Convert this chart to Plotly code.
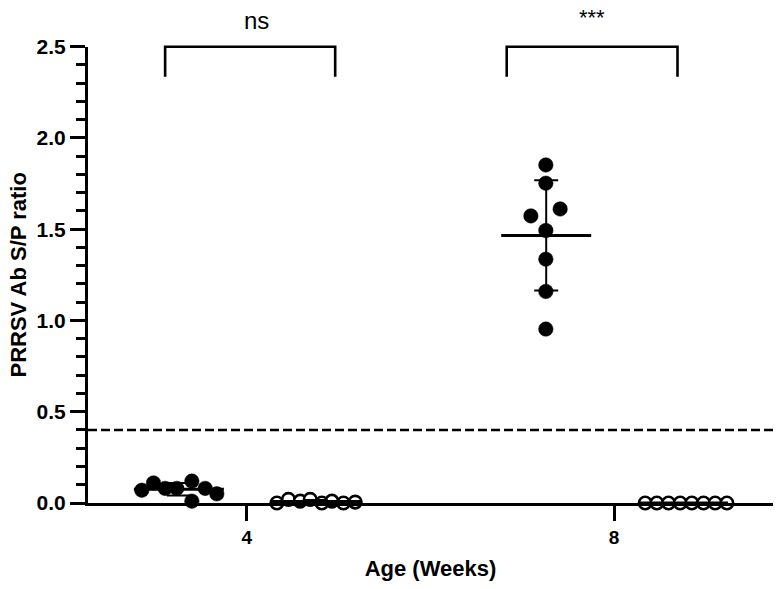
import numpy as np
import plotly.graph_objects as go

# ---- data ----
weeks = [4, 8]
week_labels = ["4", "8"]

wk4_filled = [0.07, 0.11, 0.08, 0.08, 0.12, 0.01, 0.08, 0.05]
wk4_filled_off = [-1.144, -1.017, -0.890, -0.763, -0.599, -0.599, -0.454, -0.327]
wk4_open = [0.0, 0.02, 0.01, 0.02, 0.0, 0.01, 0.0, 0.005]
wk4_open_off = [0.327, 0.453, 0.581, 0.690, 0.817, 0.926, 1.052, 1.180]

wk8_filled = [1.852, 1.752, 1.611, 1.573, 1.493, 1.336, 1.159, 0.953]
wk8_filled_off = [-0.744, -0.744, -0.588, -0.907, -0.744, -0.744, -0.744, -0.744]
wk8_open = [0.0, 0.0, 0.0, 0.0, 0.0, 0.0, 0.0, 0.0]
wk8_open_off = [0.338, 0.465, 0.592, 0.719, 0.846, 0.973, 1.100, 1.228]

group_center_off = {"filled": -0.74, "open": 0.75}
cutoff = 0.4

bracket_x0 = [3.11, 6.83]
bracket_x1 = [4.962, 8.69]
bracket_low = 2.335
bracket_high = 2.5
sig_labels = ["ns", "***"]
sig_x = [4.11, 7.76]
sig_y = [2.641, 2.66]

FONT = "Liberation Sans, Arial, Helvetica, sans-serif"

# layout geometry
m_l, m_r, m_t, m_b = 88, 11, 10, 86
H = 589
plot_h = H - m_t - m_b
y_dom_top = (H - m_b - 46.7) / plot_h  # y axis top fraction
y_range = [0, 2.5]
y2_range = [0, 2.5 / y_dom_top]

fig = go.Figure()

groups = [
    (weeks[0], wk4_filled, wk4_filled_off, "filled"),
    (weeks[0], wk4_open, wk4_open_off, "open"),
    (weeks[1], wk8_filled, wk8_filled_off, "filled"),
    (weeks[1], wk8_open, wk8_open_off, "open"),
]

for wk, vals, offs, kind in groups:
    xs = [wk + o for o in offs]
    if kind == "filled":
        marker = dict(size=14.5, color="black", line=dict(color="black", width=0.5))
    else:
        marker = dict(size=12.5, color="white", line=dict(color="black", width=2.6))
    fig.add_trace(go.Scatter(x=xs, y=vals, mode="markers", marker=marker,
                             cliponaxis=False, showlegend=False, hoverinfo="skip"))

# mean and SD
for wk, vals, offs, kind in groups:
    v = np.array(vals)
    mean = float(v.mean())
    sd = float(v.std(ddof=1))
    c = wk + group_center_off[kind]
    fig.add_trace(go.Scatter(x=[c], y=[mean], mode="markers",
                             marker=dict(size=1, color="rgba(0,0,0,0)"),
                             error_y=dict(type="data", array=[sd], arrayminus=[sd],
                                          visible=sd > 0.001, color="black", thickness=2, width=12),
                             cliponaxis=False, showlegend=False, hoverinfo="skip"))
    fig.add_trace(go.Scatter(x=[c - 0.49, c + 0.49], y=[mean, mean], mode="lines",
                             line=dict(color="black", width=3),
                             showlegend=False, hoverinfo="skip"))

# cutoff line
fig.add_trace(go.Scatter(x=[2.27, 9.73], y=[cutoff, cutoff], mode="lines",
                         line=dict(color="black", width=2.5, dash="9px,4px"),
                         showlegend=False, hoverinfo="skip"))

# significance brackets
for x0, x1 in zip(bracket_x0, bracket_x1):
    fig.add_trace(go.Scatter(x=[x0, x0, x1, x1],
                             y=[bracket_low, bracket_high, bracket_high, bracket_low],
                             mode="lines", line=dict(color="black", width=2.6),
                             yaxis="y2", showlegend=False, hoverinfo="skip"))

for lab, x, y in zip(sig_labels, sig_x, sig_y):
    fig.add_annotation(x=x, y=y, xref="x", yref="y2", text=lab, showarrow=False,
                       font=dict(family=FONT, size=24 if lab == "ns" else 22, color="black"),
                       xanchor="center", yanchor="middle")

fig.update_layout(
    width=784, height=589,
    margin=dict(l=m_l, r=m_r, t=m_t, b=m_b, autoexpand=False),
    plot_bgcolor="rgba(0,0,0,0)", paper_bgcolor="white",
    font=dict(family=FONT, color="black"),
    xaxis=dict(range=[2.27, 9.73], tickvals=weeks, ticktext=week_labels, automargin=False,
               showgrid=False, zeroline=False, showline=True, linewidth=3, linecolor="black",
               ticks="outside", ticklen=15, tickwidth=3, tickcolor="black",
               tickfont=dict(family=FONT, size=19, color="black", weight="bold"),
               title=dict(text="Age (Weeks)", standoff=14,
                          font=dict(family=FONT, size=22, color="black", weight="bold"))),
    yaxis=dict(range=y_range, domain=[0, y_dom_top], dtick=0.5, tick0=0, tickformat=".1f",
               automargin=False,
               showgrid=False, zeroline=False, showline=True, linewidth=3, linecolor="black",
               ticks="outside", ticklen=15, tickwidth=3, tickcolor="black",
               minor=dict(dtick=0.1, tick0=0, ticks="outside", ticklen=9, tickwidth=3,
                          tickcolor="black", showgrid=False),
               tickfont=dict(family=FONT, size=21, color="black", weight="bold"),
               title=dict(text="PRRSV Ab S/P ratio", standoff=4,
                          font=dict(family=FONT, size=22, color="black", weight="bold"))),
    yaxis2=dict(range=y2_range, domain=[0, 1], anchor="x", visible=False, automargin=False,
                showgrid=False, zeroline=False),
)

fig.write_html("out.html")
